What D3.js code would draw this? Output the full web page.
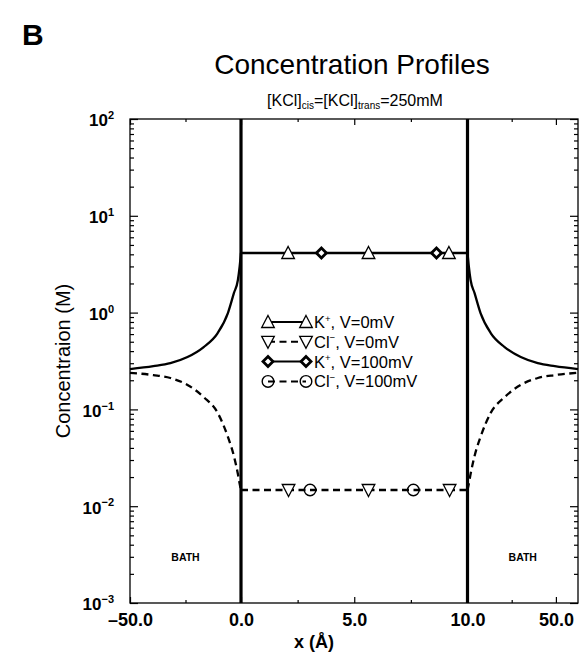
<!DOCTYPE html>
<html><head><meta charset="utf-8">
<script src="https://cdn.jsdelivr.net/npm/d3@7"></script>
<style>body{margin:0;background:#fff} text{font-family:"Liberation Sans",Arial,Helvetica,sans-serif;fill:#000}</style>
</head><body><svg id="c" width="580" height="654"></svg>
<script>
// ---------- data ----------
const leftBathX  = [-50, -39.5, -31.8, -24.1, -16.8, -10.5, -5.9, -3.2, -1.4, -0.6, 0];
const leftBathK  = [0.261, 0.280, 0.301, 0.348, 0.441, 0.615, 0.99, 1.59, 2.17, 3.0, 4.13];
const leftBathCl = [0.239, 0.226, 0.211, 0.179, 0.134, 0.092, 0.052, 0.033, 0.0215, 0.017, 0.0147];
const channelX   = [0, 10];
const channelK   = [4.13, 4.13];
const channelCl  = [0.0147, 0.0147];
const rightBathX  = [10, 10.6, 11.4, 13.2, 15.9, 20.5, 26.8, 34.1, 41.8, 49.5, 60];
const rightBathK  = [4.13, 3.0, 2.17, 1.59, 0.99, 0.615, 0.441, 0.348, 0.301, 0.280, 0.261];
const rightBathCl = [0.0147, 0.017, 0.0215, 0.033, 0.052, 0.092, 0.134, 0.179, 0.211, 0.226, 0.239];
const markK0   = [2.08, 5.63, 9.18];
const markCl0  = [2.10, 5.63, 9.21];
const markK100 = [3.55, 8.63];
const markCl100= [3.05, 7.61];
const xMajor = [-50, 0, 5, 10, 50];
const xMajorLabels = ["\u201350.0", "0.0", "5.0", "10.0", "50.0"];
const xMinor = [-25, 2.5, 7.5, 30];
const yMajorExp = [-3, -2, -1, 0, 1, 2];
const legendLabels = [["K","+",", V=0mV"],["Cl","\u2212",", V=0mV"],["K","+",", V=100mV"],["Cl","\u2212",", V=100mV"]];
const bathLabel = "BATH";
const bathLabelPos = [[-25, 0.003],[35, 0.003]];

// ---------- layout ----------
const svg = d3.select("#c");
const L = 130, R = 578, T = 119, B = 603;
const x = d3.scaleLinear().domain([-50, 0, 10, 60]).range([L, 241, 467.5, R]);
const y = d3.scaleLog().domain([1e-3, 1e2]).range([B, T]);

// titles
svg.append("text").attr("x", 22).attr("y", 45).attr("font-size", 30).attr("font-weight", "bold").text("B");
svg.append("text").attr("x", 352).attr("y", 74).attr("text-anchor", "middle").attr("font-size", 28).text("Concentration Profiles");
const st = svg.append("text").attr("x", 355).attr("y", 106).attr("text-anchor", "middle").attr("font-size", 16);
st.append("tspan").text("[KCl]");
st.append("tspan").attr("font-size", 10).attr("dy", 3).text("cis");
st.append("tspan").attr("dy", -3).text("=[KCl]");
st.append("tspan").attr("font-size", 10).attr("dy", 3).text("trans");
st.append("tspan").attr("dy", -3).text("=250mM");

// axes ticks
const gx = svg.append("g").attr("transform", `translate(0,${B})`)
  .call(d3.axisBottom(x).tickValues(xMajor).tickSize(-6).tickPadding(10).tickFormat((d,i)=>xMajorLabels[i]));
gx.selectAll("text").attr("font-size", 18).attr("font-weight", "bold").attr("fill","#000");
svg.append("g").attr("transform", `translate(0,${B})`).call(d3.axisBottom(x).tickValues(xMinor).tickSize(-3).tickFormat(""));
svg.append("g").attr("transform", `translate(0,${T})`).call(d3.axisTop(x).tickValues(xMajor).tickSize(-6).tickFormat(""));
svg.append("g").attr("transform", `translate(0,${T})`).call(d3.axisTop(x).tickValues(xMinor).tickSize(-3).tickFormat(""));

const yMajor = yMajorExp.map(e => Math.pow(10, e));
const yMinor = [];
yMajorExp.slice(0, -1).forEach(e => { for (let m = 2; m <= 9; m++) yMinor.push(m * Math.pow(10, e)); });
const gy = svg.append("g").attr("transform", `translate(${L},0)`)
  .call(d3.axisLeft(y).tickValues(yMajor).tickSize(-8).tickPadding(16).tickFormat(""));
gy.selectAll(".tick text").each(function(d, i) {
  const t = d3.select(this).attr("font-size", 17).attr("font-weight", "bold").attr("fill","#000").attr("dy", "0.4em");
  t.append("tspan").text("10");
  t.append("tspan").attr("font-size", 11).attr("dy", "-0.65em").text(yMajorExp[i] < 0 ? "\u2212" + (-yMajorExp[i]) : yMajorExp[i]);
});
svg.append("g").attr("transform", `translate(${L},0)`).call(d3.axisLeft(y).tickValues(yMinor).tickSize(-4).tickFormat(""));
svg.append("g").attr("transform", `translate(${R},0)`).call(d3.axisRight(y).tickValues(yMajor).tickSize(-8).tickFormat(""));
svg.append("g").attr("transform", `translate(${R},0)`).call(d3.axisRight(y).tickValues(yMinor).tickSize(-4).tickFormat(""));
svg.selectAll(".domain").remove();
svg.selectAll(".tick line").attr("stroke", "#000").attr("stroke-width", 1.2);

// frame
svg.append("rect").attr("x", L).attr("y", T).attr("width", R - L).attr("height", B - T)
  .attr("fill", "none").attr("stroke", "#000").attr("stroke-width", 1.3);

// axis labels
svg.append("text").attr("x", 314).attr("y", 648).attr("text-anchor", "middle").attr("font-size", 18).attr("font-weight", "bold").text("x (\u00C5)");
svg.append("text").attr("transform", "translate(70,361) rotate(-90)").attr("text-anchor", "middle").attr("font-size", 20).text("Concentraion (M)");

// membrane walls
[0, 10].forEach(v => svg.append("line").attr("x1", x(v)).attr("x2", x(v)).attr("y1", T).attr("y2", B)
  .attr("stroke", "#000").attr("stroke-width", 3.2));

// curves
const line = d3.line().x(d => x(d[0])).y(d => y(d[1])).curve(d3.curveMonotoneX);
const segK = [d3.zip(leftBathX, leftBathK), d3.zip(channelX, channelK), d3.zip(rightBathX, rightBathK)];
const segCl = [d3.zip(leftBathX, leftBathCl), d3.zip(channelX, channelCl), d3.zip(rightBathX, rightBathCl)];
segK.forEach(s => svg.append("path").attr("d", line(s)).attr("fill", "none").attr("stroke", "#000").attr("stroke-width", 2.3));
segCl.forEach(s => svg.append("path").attr("d", line(s)).attr("fill", "none").attr("stroke", "#000").attr("stroke-width", 2.3).attr("stroke-dasharray", "7,4.5"));

// marker shapes
function tri(up) { const w = 6.3, h = 6.5; return up ? `M0,${-h}L${w},${h-1}L${-w},${h-1}Z` : `M0,${h}L${w},${-h+1}L${-w},${-h+1}Z`; }
const diamond = "M0,-5L5,0L0,5L-5,0Z";
function drawMarker(g, type, cx, cy) {
  if (type === "up") g.append("path").attr("d", tri(true)).attr("transform", `translate(${cx},${cy})`).attr("fill", "#fff").attr("stroke", "#000").attr("stroke-width", 1.3);
  else if (type === "down") g.append("path").attr("d", tri(false)).attr("transform", `translate(${cx},${cy})`).attr("fill", "#fff").attr("stroke", "#000").attr("stroke-width", 1.3);
  else if (type === "diamond") g.append("path").attr("d", diamond).attr("transform", `translate(${cx},${cy})`).attr("fill", "#fff").attr("stroke", "#000").attr("stroke-width", 2.8);
  else g.append("circle").attr("cx", cx).attr("cy", cy).attr("r", 5.8).attr("fill", "none").attr("stroke", "#000").attr("stroke-width", 1.4);
}
const mg = svg.append("g");
markK0.forEach(v => drawMarker(mg, "up", x(v), y(channelK[0])));
markK100.forEach(v => drawMarker(mg, "diamond", x(v), y(channelK[0])));
markCl0.forEach(v => drawMarker(mg, "down", x(v), y(channelCl[0])));
markCl100.forEach(v => drawMarker(mg, "circle", x(v), y(channelCl[0])));

// legend
const types = ["up", "down", "diamond", "circle"];
const dashed = [false, true, false, true];
const lg = svg.append("g");
legendLabels.forEach((lab, i) => {
  const ly = 322 + i * 19.8;
  lg.append("line").attr("x1", 268).attr("x2", 306).attr("y1", ly).attr("y2", ly).attr("stroke", "#000").attr("stroke-width", 2)
    .attr("stroke-dasharray", dashed[i] ? "7,4.5" : null);
  drawMarker(lg, types[i], 268, ly);
  drawMarker(lg, types[i], 306, ly);
  const t = lg.append("text").attr("x", 314).attr("y", ly + 6).attr("font-size", 16.5);
  t.append("tspan").text(lab[0]);
  t.append("tspan").attr("font-size", 9.5).attr("dy", -6.5).text(lab[1]);
  t.append("tspan").attr("dy", 6.5).text(lab[2]);
});

// bath labels
bathLabelPos.forEach(p => svg.append("text").attr("x", x(p[0])).attr("y", y(p[1]) + 4).attr("text-anchor", "middle")
  .attr("font-size", 10.5).attr("font-weight", "bold").text(bathLabel));
</script></body></html>
